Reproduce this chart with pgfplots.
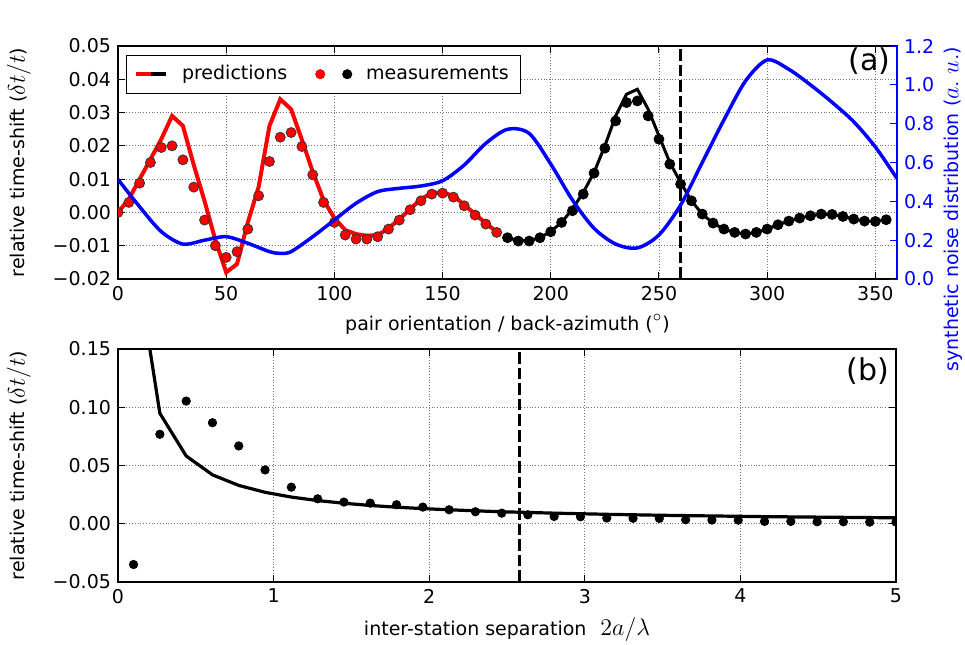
\documentclass[border=0pt]{standalone}
\usepackage{fontspec}
\setmainfont{DejaVu Sans}
\usepackage{pgfplots}
\pgfplotsset{compat=1.18}
\usetikzlibrary{calc}

\newcommand{\lblfont}{\fontsize{9.5}{11}\selectfont}
\newcommand{\mth}[1]{{\fontsize{12}{14}\selectfont$#1$}}

\pgfplotsset{
  base/.style={
    scale only axis,
    tick align=inside,
    major tick length=3.5pt,
    axis line style={line width=0.6pt},
    every tick/.style={black, line width=0.5pt},
    grid=major,
    grid style={densely dotted, line width=0.4pt, black!55},
    tick label style={font=\lblfont},
    label style={font=\lblfont},
    scaled y ticks=false,
    clip marker paths=true,
    ylabel shift=4pt,
  },
  mdots/.style={only marks, mark=*, mark size=2.5pt, forget plot},
}

\begin{document}
\begin{tikzpicture}
% (a) time shifts against orientation
\begin{axis}[base, name=top,
  width=389.5pt, height=116.5pt,
  xmin=0, xmax=360, ymin=-0.02, ymax=0.05,
  xtick={0,50,100,150,200,250,300,350},
  xticklabels={0,50,100,150,200,250,300,350},
  ytick={-0.02,-0.01,0,0.01,0.02,0.03,0.04,0.05},
  yticklabels={−0.02,−0.01,0.00,0.01,0.02,0.03,0.04,0.05},
  xtick pos=both, ytick pos=left,
  xlabel={pair orientation / back-azimuth (\mth{^\circ})},
  ylabel={relative time-shift (\mth{\delta t/t})},
  legend columns=2,
  legend style={at={(0.0103,0.961)}, anchor=north west, draw=black,
    font=\lblfont, inner xsep=4pt, inner ysep=3pt,
    /tikz/every odd column/.append style={column sep=5pt},
    /tikz/every even column/.append style={column sep=12pt}},
]
\addlegendimage{legend image code/.code={
  \draw[red, line width=2pt] (0pt,0pt) -- (7.5pt,0pt);
  \draw[black, line width=2pt] (7.5pt,0pt) -- (14.8pt,0pt);}}
\addlegendentry{predictions}
\addlegendimage{legend image code/.code={
  \fill[red] (2.3pt,0pt) circle (2.3pt);
  \fill[black] (15.8pt,0pt) circle (2.3pt);}}
\addlegendentry{measurements}

\addplot[red, line width=2pt, forget plot] coordinates {
(0,0.000) (5,0.004) (10,0.010) (15,0.016) (20,0.022) (25,0.029)
(30,0.026) (35,0.0143) (40,0.0034) (45,-0.0083) (50,-0.018) (55,-0.0155)
(60,-0.003) (65,0.0077) (70,0.026) (75,0.034) (80,0.031) (85,0.0218)
(90,0.0122) (95,0.0037) (100,-0.0017) (105,-0.0053) (110,-0.0065) (115,-0.007)
(120,-0.0068) (125,-0.0048) (130,-0.002) (135,0.001) (140,0.004) (145,0.0058)
(150,0.006) (155,0.005) (160,0.0023) (165,-0.0005) (170,-0.0033) (175,-0.0058)
};
\addplot[mdots, mark options={fill=red, draw=black!80, line width=0.4pt}] coordinates {
(0,0.000) (5,0.003) (10,0.0088) (15,0.015) (20,0.0195) (25,0.020)
(30,0.0158) (35,0.0076) (40,-0.0023) (45,-0.010) (50,-0.0135) (55,-0.0118)
(60,-0.005) (65,0.005) (70,0.0153) (75,0.0226) (80,0.024) (85,0.0198)
(90,0.0113) (95,0.003) (100,-0.003) (105,-0.0068) (110,-0.008) (115,-0.008)
(120,-0.0073) (125,-0.005) (130,-0.0023) (135,0.0008) (140,0.0035) (145,0.0055)
(150,0.0058) (155,0.0046) (160,0.002) (165,-0.0008) (170,-0.0035) (175,-0.006)
};
\addplot[black, line width=1.5pt, forget plot] coordinates {
(180,-0.0076) (185,-0.0085) (190,-0.0085) (195,-0.0076) (200,-0.0057) (205,-0.003)
(210,0.001) (215,0.006) (220,0.012) (225,0.020) (230,0.029) (235,0.0355)
(240,0.037) (245,0.031) (250,0.023) (255,0.015) (260,0.009) (265,0.0035)
(270,-0.0005) (275,-0.0032) (280,-0.005) (285,-0.006) (290,-0.0065) (295,-0.006)
(300,-0.005) (305,-0.0037) (310,-0.0026) (315,-0.0017) (320,-0.001) (325,-0.0005)
(330,-0.0006) (335,-0.0012) (340,-0.002) (345,-0.0026) (350,-0.0027) (355,-0.0022)
};
\addplot[mdots, black] coordinates {
(180,-0.0076) (185,-0.0086) (190,-0.0086) (195,-0.0076) (200,-0.0058) (205,-0.003)
(210,0.0005) (215,0.0055) (220,0.0118) (225,0.0193) (230,0.0275) (235,0.033)
(240,0.0335) (245,0.029) (250,0.022) (255,0.0145) (260,0.0085) (265,0.0035)
(270,-0.0005) (275,-0.0032) (280,-0.005) (285,-0.006) (290,-0.0065) (295,-0.006)
(300,-0.005) (305,-0.0037) (310,-0.0026) (315,-0.0017) (320,-0.001) (325,-0.0005)
(330,-0.0006) (335,-0.0012) (340,-0.002) (345,-0.0026) (350,-0.0027) (355,-0.0022)
};
\addplot[black, line width=1.8pt, dash pattern=on 5.8pt off 2pt, forget plot]
  coordinates {(260,-0.02) (260,0.05)};
\node[anchor=north east, inner sep=0pt, font=\fontsize{15}{18}\selectfont]
  at (rel axis cs:0.992,0.995) {(a)};
\end{axis}

% synthetic noise distribution on the right axis
\begin{axis}[at={(top.south west)}, anchor=south west,
  scale only axis, width=389.5pt, height=116.5pt,
  xmin=0, xmax=360, ymin=0, ymax=1.2,
  hide x axis, axis y line*=right,
  tick align=inside, major tick length=3.5pt,
  y axis line style={blue, line width=0.6pt},
  ytick style={blue, line width=0.5pt},
  ytick={0,0.2,0.4,0.6,0.8,1.0,1.2},
  yticklabels={0.0,0.2,0.4,0.6,0.8,1.0,1.2},
  yticklabel style={blue, font=\lblfont},
  ylabel={synthetic noise distribution ({\fontsize{12.5}{14}\selectfont$a.\;u.$})},
  ylabel style={blue, font=\lblfont, at={(ticklabel cs:0.3)}},
  ylabel shift=-2pt,
]
\addplot[blue, line width=1.75pt, smooth] coordinates {
(0,0.513) (10,0.372) (20,0.244) (30,0.18) (40,0.20) (50,0.218)
(60,0.184) (70,0.141) (75,0.132) (80,0.141) (90,0.218) (100,0.304)
(110,0.39) (120,0.45) (130,0.467) (140,0.479) (150,0.506) (160,0.587)
(170,0.699) (180,0.771) (190,0.75) (200,0.592) (210,0.407) (220,0.261)
(230,0.18) (240,0.16) (250,0.227) (260,0.381) (270,0.60) (280,0.819)
(290,1.02) (300,1.128) (310,1.08) (320,1.0) (330,0.91) (340,0.81)
(350,0.68) (360,0.518)
};
\end{axis}

% (b) time shift against separation
\begin{axis}[base, at={($(top.south west)+(0,-35pt)$)}, anchor=north west,
  width=389pt, height=116.5pt,
  xmin=0, xmax=5, ymin=-0.05, ymax=0.15,
  xtick={0,1,2,3,4,5}, xticklabels={0,1,2,3,4,5},
  ytick={-0.05,0,0.05,0.1,0.15},
  yticklabels={−0.05,0.00,0.05,0.10,0.15},
  xtick pos=both, ytick pos=both,
  xlabel={inter-station separation\hspace{7pt}{\fontsize{13}{15}\selectfont$2a/\lambda$}},
  ylabel={relative time-shift (\mth{\delta t/t})},
]
\addplot[black, line width=1.6pt] coordinates {
(0.1,0.24) (0.269,0.0948) (0.438,0.0582) (0.607,0.042) (0.776,0.0329)
(0.945,0.027) (1.114,0.0229) (1.283,0.0199) (1.452,0.0176) (1.621,0.0157)
(1.790,0.0142) (1.959,0.013) (2.128,0.012) (2.297,0.0111) (2.466,0.0103)
(2.634,0.0097) (2.803,0.0091) (2.972,0.0086) (3.141,0.0081) (3.310,0.0077)
(3.479,0.0073) (3.648,0.007) (3.817,0.0067) (3.986,0.0064) (4.155,0.0061)
(4.324,0.0059) (4.493,0.0057) (4.662,0.0055) (4.831,0.0053) (5.0,0.0051)
};
\addplot[only marks, mark=*, mark size=2.1pt, black] coordinates {
(0.1,-0.035) (0.269,0.0768) (0.438,0.1053) (0.607,0.0867) (0.776,0.0668)
(0.945,0.0462) (1.114,0.0314) (1.283,0.0214) (1.452,0.0186) (1.621,0.0177)
(1.790,0.0163) (1.959,0.0143) (2.128,0.012) (2.297,0.0103) (2.466,0.0091)
(2.634,0.0077) (2.803,0.0063) (2.972,0.006) (3.141,0.0049) (3.310,0.0047)
(3.479,0.0046) (3.648,0.0034) (3.817,0.0032) (3.986,0.0031) (4.155,0.002)
(4.324,0.002) (4.493,0.0017) (4.662,0.0017) (4.831,0.0014) (5.0,0.0014)
};
\addplot[black, line width=1.8pt, dash pattern=on 5.8pt off 2pt]
  coordinates {(2.58,-0.05) (2.58,0.15)};
\node[anchor=north east, inner sep=0pt, font=\fontsize{15}{18}\selectfont]
  at (rel axis cs:0.992,0.965) {(b)};
\end{axis}

\pgfresetboundingbox
\path[use as bounding box] ($(top.north west)+(-59pt,23pt)$)
  rectangle ($(top.north west)+(423.5pt,-299pt)$);
\end{tikzpicture}
\end{document}
